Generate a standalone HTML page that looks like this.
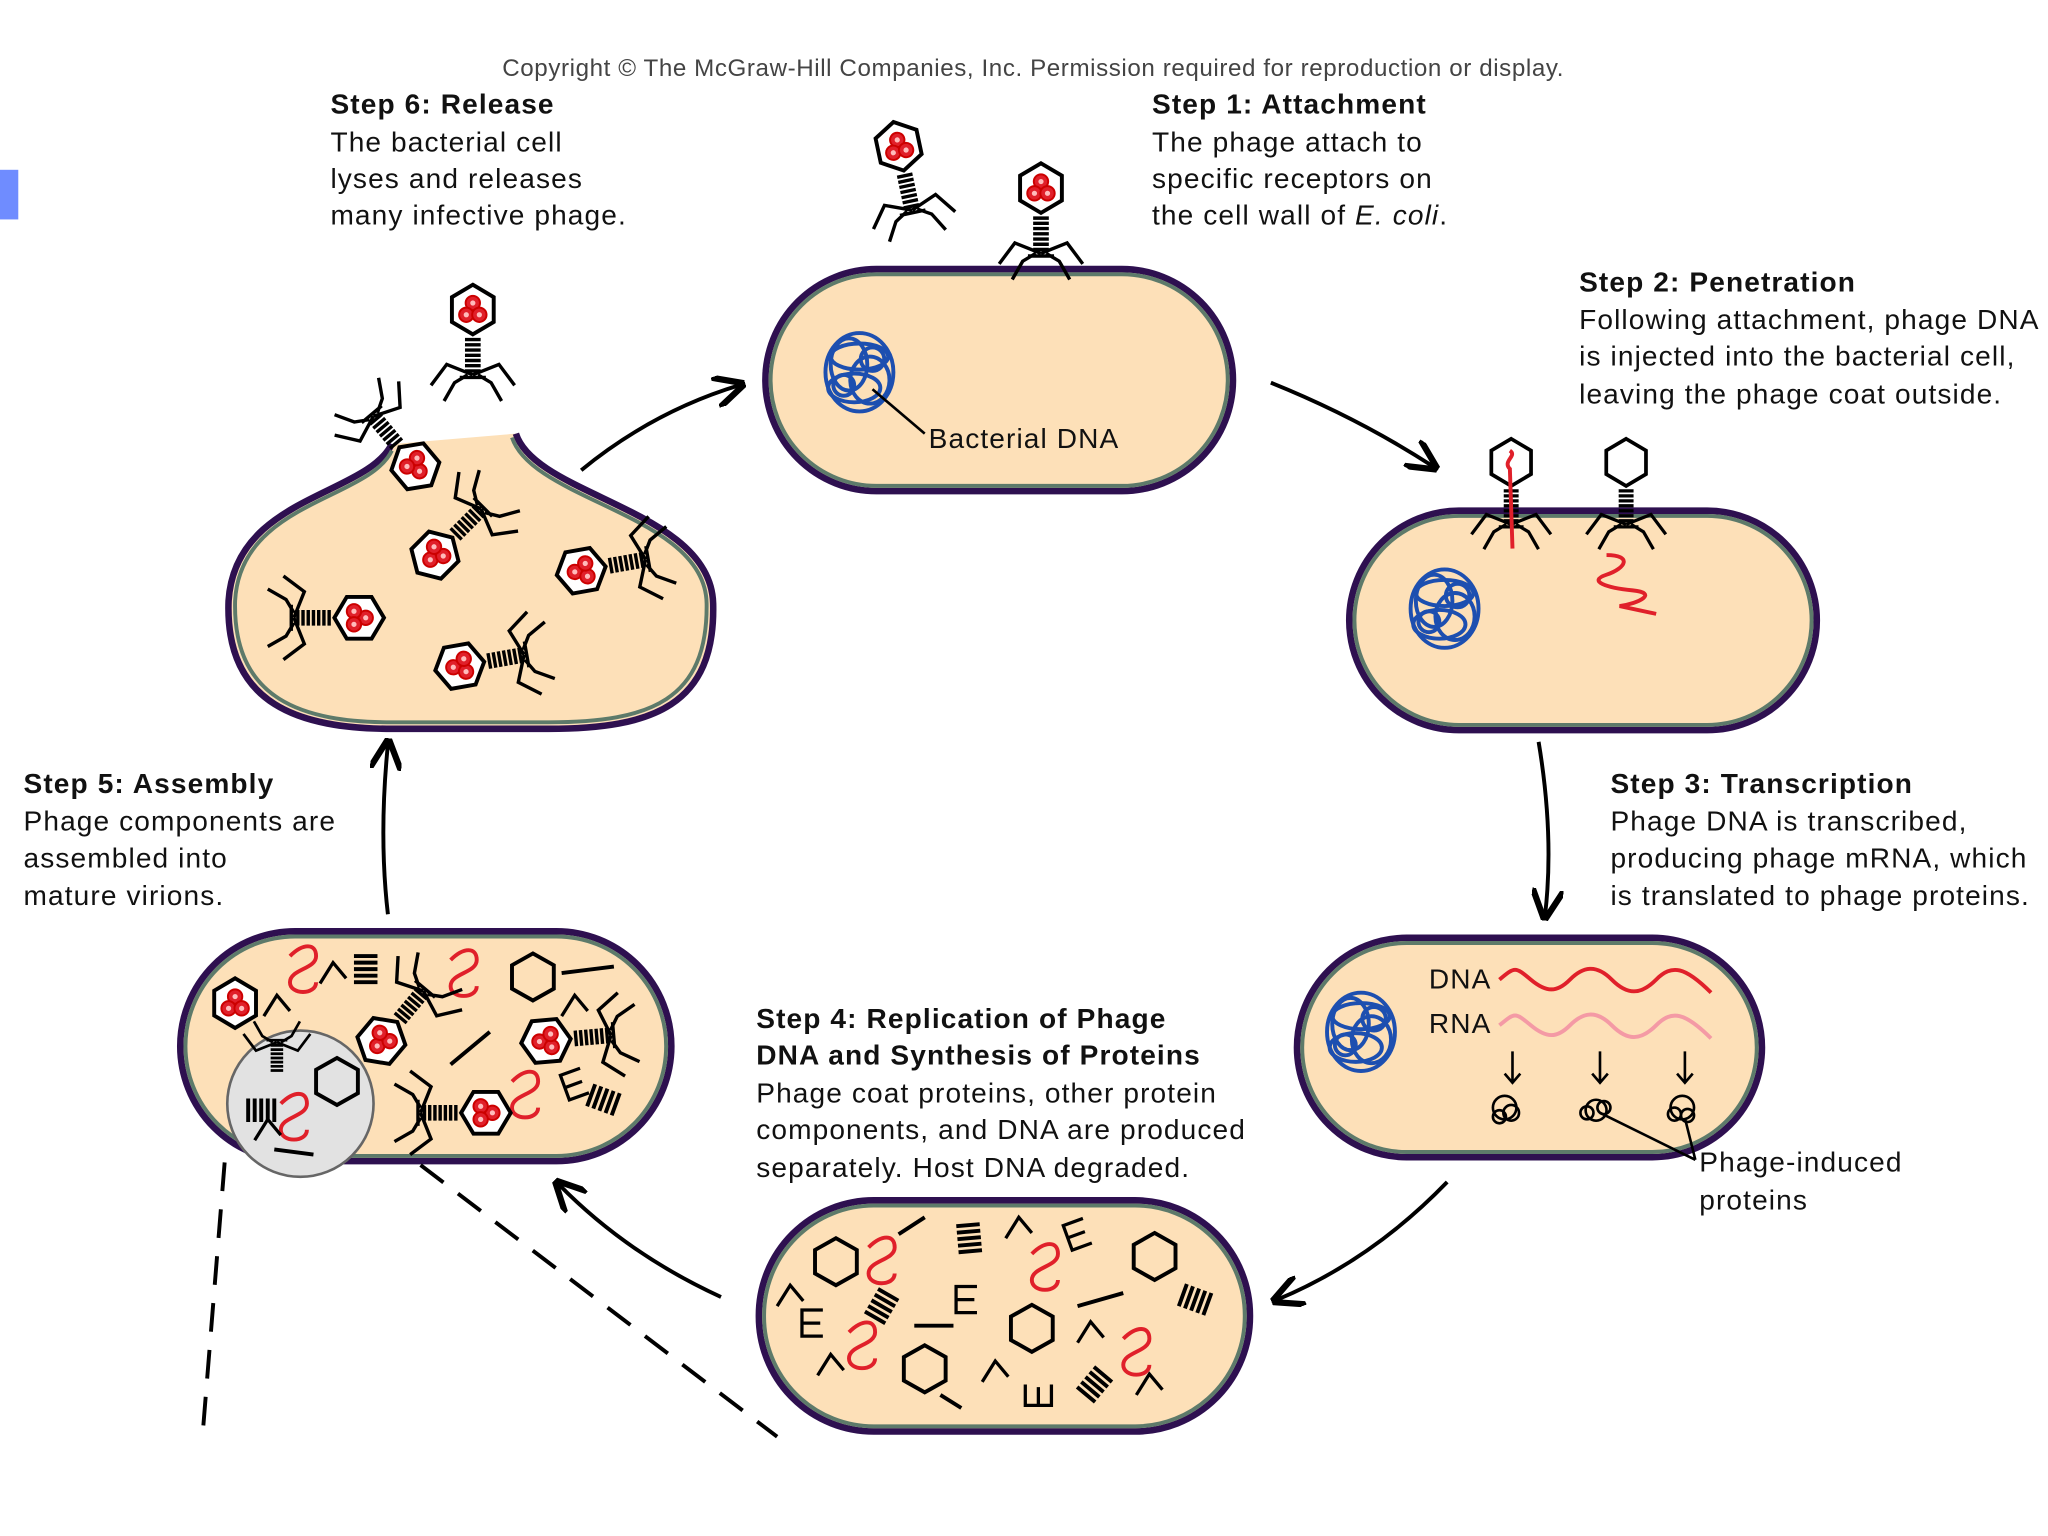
<!DOCTYPE html>
<html><head><meta charset="utf-8"><style>
html,body{margin:0;padding:0;background:#fff;width:2048px;height:1536px;overflow:hidden}
svg{display:block}
text{font-family:"Liberation Sans",sans-serif;fill:#111}
</style></head><body>
<svg width="2048" height="1536" viewBox="0 0 1568 1176" xmlns="http://www.w3.org/2000/svg">
<defs>
<g id="hd">
 <polygon points="0,-19 16,-9.5 16,9.5 0,19 -16,9.5 -16,-9.5" fill="#fff" stroke="#000" stroke-width="3"/>
 <circle cx="0" cy="-5" r="5.5" fill="#e0202a" stroke="#c00" stroke-width="1.5"/>
 <circle cx="-5" cy="4" r="5.5" fill="#e0202a" stroke="#c00" stroke-width="1.5"/>
 <circle cx="5" cy="4" r="5.5" fill="#e0202a" stroke="#c00" stroke-width="1.5"/>
 <circle cx="0" cy="-5" r="2" fill="#fbb"/><circle cx="-5" cy="4" r="2" fill="#fbb"/><circle cx="5" cy="4" r="2" fill="#fbb"/>
</g>
<g id="tl" stroke="#000" stroke-width="2.6" fill="none">
 <path d="M-6 23H6M-6 27H6M-6 31H6M-6 35H6M-6 39H6M-6 43H6M-6 47H6"/>
 <path d="M0 50 L-20 42 L-32 58 M0 50 L20 42 L32 58 M-4 50 L-14 56 L-22 70 M4 50 L14 56 L22 70 M-10 52H10"/>
</g>
<g id="ph"><use href="#tl"/><use href="#hd"/></g>
<g id="pe"><use href="#tl"/><polygon points="0,-19 16,-9.5 16,9.5 0,19 -16,9.5 -16,-9.5" fill="#fff" stroke="#000" stroke-width="3"/></g>
<g id="dna" fill="none" stroke="#1d4fb0" stroke-width="3">
 <ellipse cx="0" cy="0" rx="26" ry="30"/><ellipse cx="-8" cy="-6" rx="14" ry="20"/><ellipse cx="8" cy="6" rx="15" ry="18"/>
 <ellipse cx="0" cy="-12" rx="22" ry="10"/><ellipse cx="-4" cy="12" rx="20" ry="11"/><circle cx="10" cy="-10" r="9"/><circle cx="-12" cy="10" r="8"/>
</g>
<g id="hx"><polygon points="0,-18 16,-9 16,9 0,18 -16,9 -16,-9" fill="none" stroke="#000" stroke-width="3"/></g>
<g id="st" stroke="#000" stroke-width="3"><path d="M-9 -10H9M-9 -5H9M-9 0H9M-9 5H9M-9 10H9"/></g>
<path id="sq" d="M0 0 c10 -10 20 -10 20 0 s-20 10 -20 20 s20 10 20 0" fill="none" stroke="#e0202a" stroke-width="3"/>
<path id="an" d="M-10 8 L0 -8 L10 4" fill="none" stroke="#000" stroke-width="2.5"/>
<path id="ee" d="M8 -10 H-8 V10 H8 M-8 0 H6" fill="none" stroke="#000" stroke-width="2.5"/>
<marker id="ar" viewBox="0 0 10 10" refX="8" refY="5" markerWidth="8" markerHeight="8" orient="auto"><path d="M0 0 L10 5 L0 10" fill="none" stroke="#000" stroke-width="2"/></marker>
</defs>

<rect x="0" y="130" width="14" height="38" fill="#6f8cff"/>
<text x="791" y="58" font-size="18.5" text-anchor="middle" letter-spacing="0.45" style="fill:#444">Copyright © The McGraw-Hill Companies, Inc. Permission required for reproduction or display.</text>

<!-- cells -->
<g fill="#fde0b8">
<rect x="586" y="206" width="358" height="170" rx="85" stroke="#2e1050" stroke-width="5"/>
<rect x="590" y="210" width="350" height="162" rx="81" fill="none" stroke="#5d7a6a" stroke-width="3"/>
<rect x="1033" y="391" width="358" height="168" rx="84" stroke="#2e1050" stroke-width="5"/>
<rect x="1037" y="395" width="350" height="160" rx="80" fill="none" stroke="#5d7a6a" stroke-width="3"/>
<rect x="993" y="718" width="356" height="168" rx="84" stroke="#2e1050" stroke-width="5"/>
<rect x="997" y="722" width="348" height="160" rx="80" fill="none" stroke="#5d7a6a" stroke-width="3"/>
<rect x="581" y="919" width="376" height="177" rx="88" stroke="#2e1050" stroke-width="5"/>
<rect x="585" y="923" width="368" height="169" rx="84" fill="none" stroke="#5d7a6a" stroke-width="3"/>
<rect x="138" y="713" width="376" height="176" rx="88" stroke="#2e1050" stroke-width="5"/>
<rect x="142" y="717" width="368" height="168" rx="84" fill="none" stroke="#5d7a6a" stroke-width="3"/>
<path d="M300 340 C 280 380 180 380 175 460 C 172 540 230 558 300 558 L 420 558 C 500 558 548 540 546 462 C 544 390 410 380 395 332 Z" stroke="none"/>
<path d="M300 340 C 280 380 180 380 175 460 C 172 540 230 558 300 558 L 420 558 C 500 558 548 540 546 462 C 544 390 410 380 395 332" fill="none" stroke="#2e1050" stroke-width="5"/>
<path d="M300 345 C 282 383 184 384 180 460 C 178 536 232 553 300 553 L 420 553 C 498 553 542 536 541 462 C 540 394 408 384 392 335" fill="none" stroke="#5d7a6a" stroke-width="3"/>
</g>

<!-- Text blocks -->
<g font-size="21.5" letter-spacing="0.85">
<text x="253" y="87" font-weight="bold">Step 6: Release</text>
<text x="253" y="116">The bacterial cell</text><text x="253" y="144">lyses and releases</text><text x="253" y="172">many infective phage.</text>
<text x="882" y="87" font-weight="bold">Step 1: Attachment</text>
<text x="882" y="116">The phage attach to</text><text x="882" y="144">specific receptors on</text><text x="882" y="172">the cell wall of <tspan font-style="italic">E. coli</tspan>.</text>
<text x="1209" y="223" font-weight="bold">Step 2: Penetration</text>
<text x="1209" y="252">Following attachment, phage DNA</text><text x="1209" y="280">is injected into the bacterial cell,</text><text x="1209" y="309">leaving the phage coat outside.</text>
<text x="1233" y="607" font-weight="bold">Step 3: Transcription</text>
<text x="1233" y="636">Phage DNA is transcribed,</text><text x="1233" y="664">producing phage mRNA, which</text><text x="1233" y="693">is translated to phage proteins.</text>
<text x="18" y="607" font-weight="bold">Step 5: Assembly</text>
<text x="18" y="636">Phage components are</text><text x="18" y="664">assembled into</text><text x="18" y="693">mature virions.</text>
<text x="579" y="787" font-weight="bold">Step 4: Replication of Phage</text>
<text x="579" y="815" font-weight="bold">DNA and Synthesis of Proteins</text>
<text x="579" y="844">Phage coat proteins, other protein</text><text x="579" y="872">components, and DNA are produced</text><text x="579" y="901">separately. Host DNA degraded.</text>
<text x="711" y="343">Bacterial DNA</text>
<text x="1094" y="757">DNA</text><text x="1094" y="791">RNA</text>
<text x="1301" y="897">Phage-induced</text><text x="1301" y="926">proteins</text>
</g>

<!-- step1 -->
<use href="#dna" x="658" y="285"/>
<line x1="668" y1="298" x2="708" y2="332" stroke="#000" stroke-width="2"/>
<use href="#ph" transform="translate(688,112) rotate(-12)"/>
<use href="#ph" transform="translate(797,144)"/>

<!-- step2 -->
<use href="#dna" x="1106" y="466"/>
<use href="#pe" transform="translate(1157,354) scale(0.95)"/>
<use href="#pe" transform="translate(1245,354) scale(0.95)"/>
<path d="M1156 345 c6 4 -6 8 0 14 L1158 420" fill="none" stroke="#e0202a" stroke-width="3"/>
<path d="M1230 425 c20 0 15 10 0 15 s0 10 20 12 s5 10 -10 12 l28 6" fill="none" stroke="#e0202a" stroke-width="3"/>

<!-- step3 -->
<use href="#dna" x="1042" y="790"/>
<path d="M1148 750 c12 -10 12 -10 24 0 s20 10 30 0 s20 -12 32 0 s22 12 34 0 s22 -10 42 10" fill="none" stroke="#e0202a" stroke-width="3"/>
<path d="M1148 785 c12 -10 12 -10 24 0 s20 10 30 0 s20 -12 32 0 s22 12 34 0 s22 -10 42 10" fill="none" stroke="#f49aa5" stroke-width="3"/>
<g stroke="#000" stroke-width="2" fill="none">
<path d="M1158 805 V828 M1152 822 l6 7 l6 -7 M1225 805 V828 M1219 822 l6 7 l6 -7 M1290 805 V828 M1284 822 l6 7 l6 -7"/>
<circle cx="1152" cy="848" r="9"/><circle cx="1157" cy="852" r="6"/><circle cx="1148" cy="855" r="5"/>
<circle cx="1222" cy="850" r="8"/><circle cx="1228" cy="848" r="5"/><circle cx="1215" cy="852" r="5"/>
<circle cx="1288" cy="848" r="9"/><circle cx="1292" cy="854" r="5"/><circle cx="1282" cy="853" r="5"/>
<path d="M1225 852 L1298 888 M1290 856 L1298 888"/>
</g>

<!-- step4 contents -->
<use href="#hx" x="640" y="966"/><use href="#hx" x="884" y="962"/><use href="#hx" x="790" y="1017"/><use href="#hx" x="708" y="1048"/>
<use href="#sq" x="665" y="955"/><use href="#sq" x="790" y="960"/><use href="#sq" x="650" y="1020"/><use href="#sq" x="860" y="1025"/>
<use href="#st" transform="translate(742,948) rotate(-5)"/><use href="#st" transform="translate(915,995) rotate(-70)"/><use href="#st" transform="translate(675,1000) rotate(30)"/><use href="#st" transform="translate(838,1060) rotate(40)"/>
<use href="#ee" x="622" y="1013"/><use href="#ee" transform="translate(825,945) rotate(-20)"/><use href="#ee" transform="translate(795,1068) rotate(-90)"/><use href="#ee" transform="translate(740,995)"/>
<use href="#an" x="605" y="992"/><use href="#an" x="636" y="1045"/><use href="#an" x="780" y="940"/><use href="#an" x="762" y="1050"/><use href="#an" x="835" y="1020"/><use href="#an" x="880" y="1060"/>
<g stroke="#000" stroke-width="3"><line x1="688" y1="945" x2="708" y2="932"/><line x1="700" y1="1015" x2="730" y2="1015"/><line x1="825" y1="1000" x2="860" y2="990"/><line x1="720" y1="1068" x2="736" y2="1078"/></g>

<!-- step5 contents -->
<use href="#hd" x="180" y="768"/>
<use href="#sq" x="222" y="732"/><use href="#sq" x="345" y="735"/><use href="#sq" x="392" y="828"/><use href="#sq" x="252" y="845"/>
<use href="#hx" x="408" y="748"/>
<use href="#st" transform="translate(280,742)"/><use href="#st" transform="translate(462,842) rotate(-70)"/>
<use href="#an" x="212" y="770"/><use href="#an" x="255" y="745"/><use href="#an" x="440" y="770"/>
<use href="#ee" transform="translate(440,830) rotate(-20)"/>
<g stroke="#000" stroke-width="3"><line x1="430" y1="745" x2="470" y2="740"/><line x1="345" y1="815" x2="375" y2="790"/></g>
<use href="#ph" transform="translate(292,797) rotate(-140)"/>
<use href="#ph" transform="translate(418,797) rotate(-95)"/>
<use href="#ph" transform="translate(372,852) rotate(90)"/>
<circle cx="230" cy="845" r="56" fill="#e2e2e2" stroke="#666" stroke-width="2"/>
<use href="#hx" x="258" y="828"/>
<use href="#sq" x="215" y="845"/>
<use href="#st" transform="translate(200,850) rotate(90)"/>
<use href="#tl" transform="translate(212,838) rotate(180) scale(0.8)"/>
<use href="#an" x="205" y="865"/>
<line x1="210" y1="880" x2="240" y2="884" stroke="#000" stroke-width="3"/>

<!-- step6 contents -->
<use href="#ph" transform="translate(362,237)"/>
<use href="#ph" transform="translate(318,357) rotate(140)"/>
<use href="#ph" transform="translate(333,425) rotate(-135)"/>
<use href="#ph" transform="translate(275,473) rotate(90)"/>
<use href="#ph" transform="translate(445,437) rotate(-100)"/>
<use href="#ph" transform="translate(352,510) rotate(-100)"/>

<!-- arrows -->
<g fill="none" stroke="#000" stroke-width="3" marker-end="url(#ar)">
<path d="M445 360 Q500 315 566 295"/>
<path d="M973 293 Q1040 320 1097 357"/>
<path d="M1178 568 Q1190 640 1183 700"/>
<path d="M1108 905 Q1050 965 978 995"/>
<path d="M552 993 Q480 960 428 907"/>
<path d="M297 700 Q290 640 297 570"/>
</g>
<g stroke="#000" stroke-width="3" stroke-dasharray="22 14">
<line x1="172" y1="890" x2="155" y2="1100"/>
<line x1="322" y1="892" x2="595" y2="1100"/>
</g>
</svg>
</body></html>
